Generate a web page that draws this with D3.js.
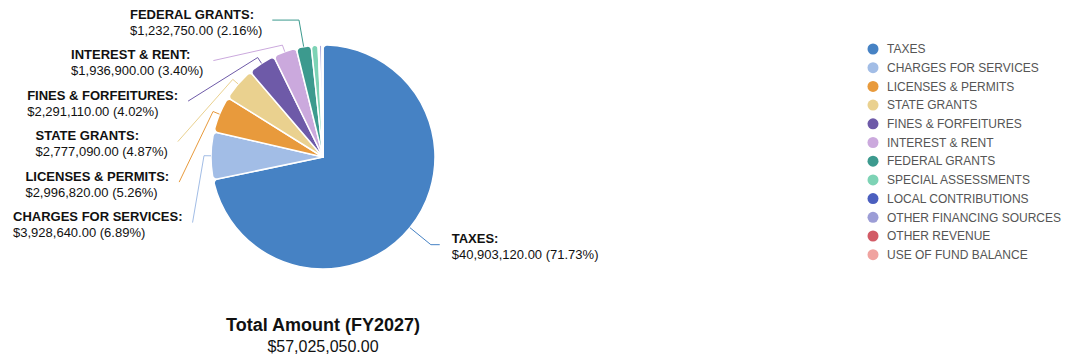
<!DOCTYPE html>
<html>
<head>
<meta charset="utf-8">
<script src="https://cdn.jsdelivr.net/npm/d3@7"></script>
<style>
  html, body { margin: 0; padding: 0; background: #fff; }
  svg { display: block; font-family: "Liberation Sans", Arial, sans-serif; }
</style>
</head>
<body>
<svg id="chart" width="1071" height="358"></svg>
<script>
// Revenue sources for FY2027, in legend / slice order
const categories = [
  "TAXES", "CHARGES FOR SERVICES", "LICENSES & PERMITS", "STATE GRANTS",
  "FINES & FORFEITURES", "INTEREST & RENT", "FEDERAL GRANTS", "SPECIAL ASSESSMENTS",
  "LOCAL CONTRIBUTIONS", "OTHER FINANCING SOURCES", "OTHER REVENUE", "USE OF FUND BALANCE"
];
const amounts = [
  40903120, 3928640, 2996820, 2777090,
  2291110, 1936900, 1232750, 560000,
  100000, 210000, 48620, 40000
];
const colors = [
  "#4682c4", "#a2bde6", "#e89a3c", "#ead18f",
  "#6e5aa8", "#cba9dd", "#3c9a8e", "#7dd3b5",
  "#4b5fbf", "#9c9dd6", "#d25b66", "#f0a3a0"
];
const titleText = "Total Amount (FY2027)";

const svg = d3.select("#chart");
const cx = 323, cy = 157, r = 112;
const total = d3.sum(amounts);
const money = d3.format("$,.2f");
const pct = v => (v / total * 100).toFixed(2) + "%";

const data = categories.map((c, i) => ({ name: c, value: amounts[i], color: colors[i] }));

const pie = d3.pie().value(d => d.value).sort(null);
const arcs = pie(data);
const arc = d3.arc().innerRadius(0).outerRadius(r).cornerRadius(4);

const g = svg.append("g").attr("transform", `translate(${cx},${cy})`);
g.selectAll("path.slice")
  .data(arcs)
  .join("path")
  .attr("class", "slice")
  .attr("d", arc)
  .attr("fill", d => d.data.color)
  .attr("stroke", "#fff")
  .attr("stroke-width", 1.5)
  .attr("stroke-linejoin", "round");

// Label layout: natural position on a ring, then spread vertically per side
const ringY = 139, ringX = 146, gap = 40.5, lineOut = 7;
const labeled = arcs.filter(d => d.value / total >= 0.02).map(d => {
  const a = (d.startAngle + d.endAngle) / 2;
  return { d, a, side: Math.sin(a) >= 0 ? 1 : -1, y: cy - ringY * Math.cos(a) };
});
[1, -1].forEach(side => {
  const items = labeled.filter(l => l.side === side).sort((p, q) => p.y - q.y);
  for (let i = 1; i < items.length; i++) {
    items[i].y = Math.max(items[i].y, items[i - 1].y + gap);
  }
});

const labelsG = svg.append("g");
labeled.forEach(l => {
  const { a, side, y } = l;
  const dy = y - cy;
  const x3 = cx + side * Math.sqrt(Math.max(0, ringX * ringX - dy * dy));
  const radial = t => [cx + t * Math.sin(a), cy - t * Math.cos(a)];
  let t = (cy - y) / Math.cos(a);
  if (!(t >= r + lineOut)) t = r + lineOut;
  const p1 = radial(r), p2 = radial(t), p3 = [x3, y];

  labelsG.append("polyline")
    .attr("points", [p1, p2, p3].map(p => p.join(",")).join(" "))
    .attr("fill", "none")
    .attr("stroke", l.d.data.color)
    .attr("stroke-width", 1);

  const tg = labelsG.append("g");
  const t1 = tg.append("text")
    .attr("y", y - 6).attr("dy", "0.35em")
    .attr("font-size", 13).attr("font-weight", "bold").attr("fill", "#111")
    .text(l.d.data.name + ":");
  const t2 = tg.append("text")
    .attr("y", y + 10).attr("dy", "0.35em")
    .attr("font-size", 13).attr("fill", "#111")
    .text(`${money(l.d.value)} (${pct(l.d.value)})`);
  const w = Math.max(t1.node().getComputedTextLength(), t2.node().getComputedTextLength());
  const left = side > 0 ? x3 + 12 : x3 - 10 - w;
  t1.attr("x", left);
  t2.attr("x", left);
});

// Legend
const legend = svg.append("g").attr("transform", "translate(873,49)");
const rows = legend.selectAll("g")
  .data(data)
  .join("g")
  .attr("transform", (d, i) => `translate(0,${i * 18.7})`);
rows.append("circle").attr("r", 5.5).attr("fill", d => d.color);
rows.append("text")
  .attr("x", 14).attr("dy", "0.35em")
  .attr("font-size", 12).attr("fill", "#555")
  .text(d => d.name);

// Total caption under the pie
svg.append("text")
  .attr("x", cx).attr("y", 325).attr("dy", "0.35em")
  .attr("text-anchor", "middle")
  .attr("font-size", 18).attr("font-weight", "bold").attr("fill", "#111")
  .text(titleText);
svg.append("text")
  .attr("x", cx).attr("y", 346).attr("dy", "0.35em")
  .attr("text-anchor", "middle")
  .attr("font-size", 16).attr("fill", "#111")
  .text(money(total));
</script>
</body>
</html>
